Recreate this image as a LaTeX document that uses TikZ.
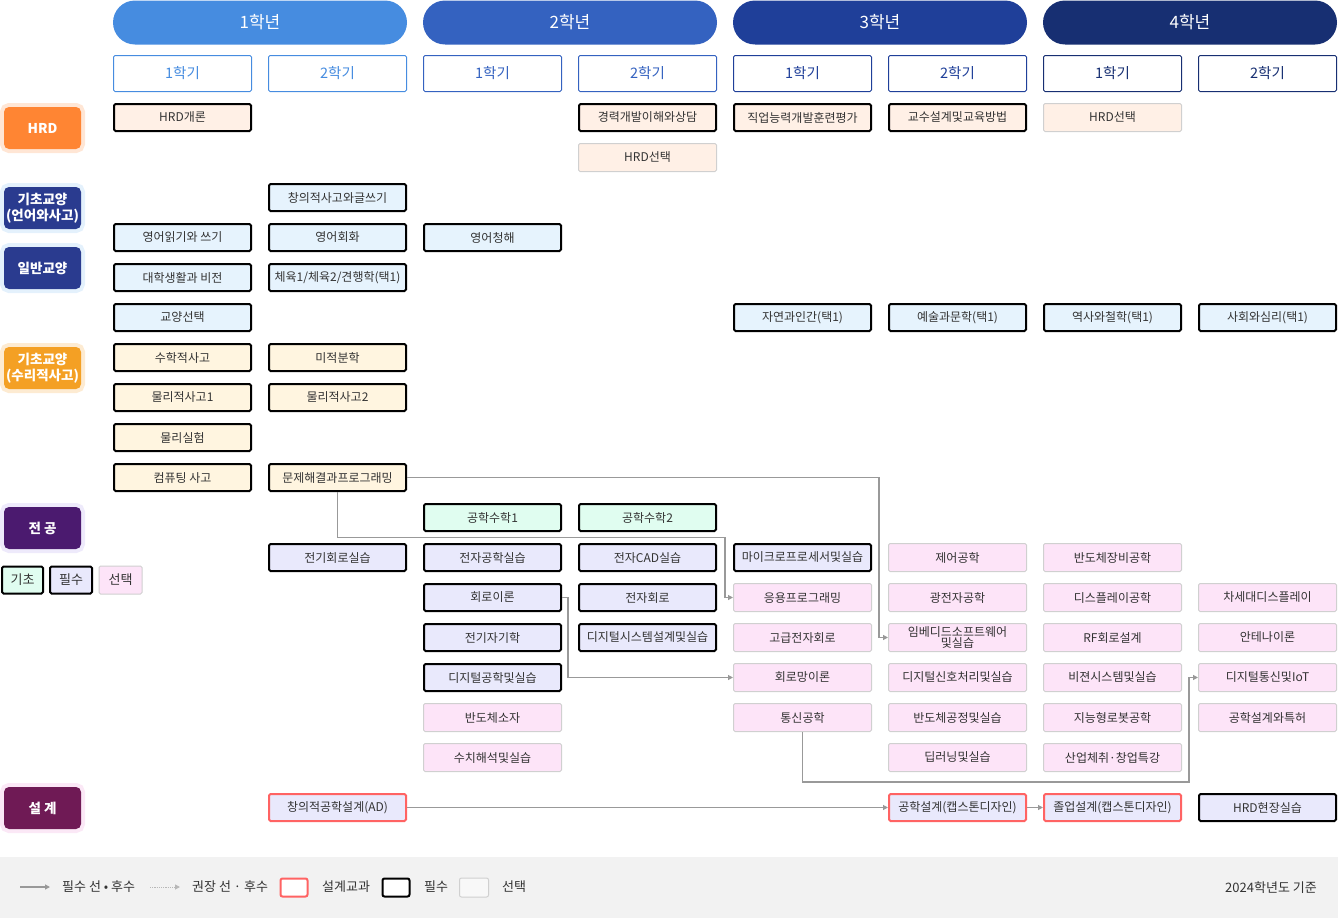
\documentclass[tikz,border=0pt]{standalone}
\usepackage{fontspec}
\setmainfont{Noto Sans CJK KR}
\usetikzlibrary{
    arrows.meta,
    positioning,
    calc
}
% colours
\definecolor{yearA}{HTML}{468CE0}
\definecolor{yearB}{HTML}{3462C0}
\definecolor{yearC}{HTML}{1F3F99}
\definecolor{yearD}{HTML}{172F72}
\definecolor{hrdcat}{HTML}{FF8533}
\definecolor{hrdhalo}{HTML}{FFE6D5}
\definecolor{langcat}{HTML}{2A3B8F}
\definecolor{langhalo}{HTML}{E4F1FC}
\definecolor{mathcat}{HTML}{F4A024}
\definecolor{mathhalo}{HTML}{FDEBD2}
\definecolor{majcat}{HTML}{4B1A6F}
\definecolor{majhalo}{HTML}{EEEAFB}
\definecolor{descat}{HTML}{6F1A55}
\definecolor{deshalo}{HTML}{FBE8F6}
\definecolor{hrdbg}{HTML}{FFF0E6}
\definecolor{langbg}{HTML}{E6F3FD}
\definecolor{mathbg}{HTML}{FFF5E0}
\definecolor{basicbg}{HTML}{E0FDF0}
\definecolor{majreq}{HTML}{E9E9FC}
\definecolor{majopt}{HTML}{FDE4F8}
\definecolor{txtgrey}{HTML}{333333}
\definecolor{optline}{HTML}{D0D0D0}
\definecolor{designred}{HTML}{FF6363}
\definecolor{linkgrey}{HTML}{999999}
\definecolor{legendbg}{HTML}{F2F2F2}
% fonts
\newcommand{\yearfont}{\fontsize{17}{18}\selectfont}
\newcommand{\termfont}{\fontsize{14.5}{16}\selectfont}
\newcommand{\catfont}{\fontsize{13.5}{16}\selectfont\bfseries}
\newcommand{\coursefont}{\fontsize{12}{13.5}\selectfont}
\newcommand{\legendfont}{\fontsize{13}{14}\selectfont}
\tikzset{
    % --- Year header (pill) ---
    year head/.style = {
        rectangle, rounded corners=22pt,
        minimum width=294pt, minimum height=44pt, inner sep=0pt,
        text=white, font=\yearfont
    },
    % --- Semester box ---
    term/.style = {
        rectangle, draw=#1, text=#1, line width=1pt, fill=white,
        rounded corners=1.5pt,
        minimum width=138pt, minimum height=36pt, inner sep=0pt,
        font=\termfont
    },
    % --- Category label on the left, with light halo ---
    category/.style = {
        rectangle, rounded corners=5pt,
        minimum width=77pt, minimum height=42pt, inner sep=0pt,
        text=white, align=center, font=\catfont,
        preaction={draw=#1, line width=8pt}
    },
    % --- Course box ---
    course/.style = {
        rectangle, rounded corners=1.5pt,
        minimum width=137pt, minimum height=27pt, inner sep=0pt,
        text=txtgrey, font=\coursefont, align=center
    },
    % --- Required course (thick black border) ---
    required/.style = {
        course, draw=black, line width=2pt
    },
    % --- Elective course (thin grey border) ---
    elective/.style = {
        course, draw=optline, line width=1pt,
        minimum width=138pt, minimum height=28pt
    },
    % --- Design course (red border) ---
    design/.style = {
        course, draw=designred, line width=2pt, fill=majreq
    },
    % --- Prerequisite connector ---
    link/.style = {
        draw=linkgrey, line width=1.2pt,
        -{Triangle[length=5pt,width=5pt]}
    },
    % --- Legend text ---
    legend text/.style = {
        anchor=west, inner sep=0pt, text=txtgrey, font=\legendfont
    }
}

\begin{document}
\begin{tikzpicture}[x=1pt, y=-1pt]

\useasboundingbox (0,0) rectangle (1338,918);

% ---------------------------------------------------------
% Year headers
% ---------------------------------------------------------
\node[year head, fill=yearA] (Year1) at (260, 22.5) {1학년};
\node[year head, fill=yearB] (Year2) at (570, 22.5) {2학년};
\node[year head, fill=yearC] (Year3) at (880, 22.5) {3학년};
\node[year head, fill=yearD] (Year4) at (1190, 22.5) {4학년};

% ---------------------------------------------------------
% Semesters
% ---------------------------------------------------------
\node[term=yearA] (Y1S1) at (182.5, 73.5) {1학기};
\node[term=yearA] (Y1S2) at (337.5, 73.5) {2학기};
\node[term=yearB] (Y2S1) at (492.5, 73.5) {1학기};
\node[term=yearB] (Y2S2) at (647.5, 73.5) {2학기};
\node[term=yearC] (Y3S1) at (802.5, 73.5) {1학기};
\node[term=yearC] (Y3S2) at (957.5, 73.5) {2학기};
\node[term=yearD] (Y4S1) at (1112.5, 73.5) {1학기};
\node[term=yearD] (Y4S2) at (1267.5, 73.5) {2학기};

% ---------------------------------------------------------
% Categories (left)
% ---------------------------------------------------------
\node[category=hrdhalo, fill=hrdcat]   (CatHRD)  at (42.5, 128) {HRD};
\node[category=langhalo, fill=langcat] (CatLang) at (42.5, 208) {기초교양\\(언어와사고)};
\node[category=langhalo, fill=langcat] (CatGen)  at (42.5, 268) {일반교양};
\node[category=mathhalo, fill=mathcat] (CatMath) at (42.5, 368) {기초교양\\(수리적사고)};
\node[category=majhalo, fill=majcat]   (CatMaj)  at (42.5, 528) {전 공};
\node[category=deshalo, fill=descat]   (CatDes)  at (42.5, 808) {설 계};

% major legend
\node[required, fill=basicbg, minimum width=41pt, font=\legendfont] (KeyBasic) at (22.5, 580) {기초};
\node[required, fill=majreq, minimum width=42pt, font=\legendfont]  (KeyReq)   at (71, 580) {필수};
\node[elective, fill=majopt, minimum width=43pt, font=\legendfont]  (KeyOpt)   at (120.5, 580) {선택};

% ---------------------------------------------------------
% HRD
% ---------------------------------------------------------
\node[required, fill=hrdbg] (HRDIntro)   at (182.5, 117.5) {HRD개론};
\node[required, fill=hrdbg] (CareerDev)  at (647.5, 117.5) {경력개발이해와상담};
\node[required, fill=hrdbg] (VocEval)    at (802.5, 117.5) {직업능력개발훈련평가};
\node[required, fill=hrdbg] (InstDesign) at (957.5, 117.5) {교수설계및교육방법};
\node[elective, fill=hrdbg] (HRDOptA)    at (1112.5, 117.5) {HRD선택};
\node[elective, fill=hrdbg] (HRDOptB)    at (647.5, 157.5) {HRD선택};

% ---------------------------------------------------------
% Liberal arts
% ---------------------------------------------------------
\node[required, fill=langbg] (Writing)   at (337.5, 197.5) {창의적사고와글쓰기};
\node[required, fill=langbg] (EngRW)     at (182.5, 237.5) {영어읽기와 쓰기};
\node[required, fill=langbg] (EngConv)   at (337.5, 237.5) {영어회화};
\node[required, fill=langbg] (EngListen) at (492.5, 237.5) {영어청해};
\node[required, fill=langbg] (CampusLife) at (182.5, 277.5) {대학생활과 비전};
\node[required, fill=langbg] (PhysEd)    at (337.5, 277.5) {체육1/체육2/견행학(택1)};
\node[required, fill=langbg] (LibOpt)    at (182.5, 317.5) {교양선택};
\node[required, fill=langbg] (Nature)    at (802.5, 317.5) {자연과인간(택1)};
\node[required, fill=langbg] (Arts)      at (957.5, 317.5) {예술과문학(택1)};
\node[required, fill=langbg] (History)   at (1112.5, 317.5) {역사와철학(택1)};
\node[required, fill=langbg] (Society)   at (1267.5, 317.5) {사회와심리(택1)};

% ---------------------------------------------------------
% Math / science basics
% ---------------------------------------------------------
\node[required, fill=mathbg] (MathThink) at (182.5, 357.5) {수학적사고};
\node[required, fill=mathbg] (Calculus)  at (337.5, 357.5) {미적분학};
\node[required, fill=mathbg] (PhysA)     at (182.5, 397.5) {물리적사고1};
\node[required, fill=mathbg] (PhysB)     at (337.5, 397.5) {물리적사고2};
\node[required, fill=mathbg] (PhysLab)   at (182.5, 437.5) {물리실험};
\node[required, fill=mathbg] (CompThink) at (182.5, 477.5) {컴퓨팅 사고};
\node[required, fill=mathbg] (ProbSolv)  at (337.5, 477.5) {문제해결과프로그래밍};

% ---------------------------------------------------------
% Major
% ---------------------------------------------------------
\node[required, fill=basicbg] (EngMathA) at (492.5, 517.5) {공학수학1};
\node[required, fill=basicbg] (EngMathB) at (647.5, 517.5) {공학수학2};

\node[required, fill=majreq] (CircLab)   at (337.5, 557.5) {전기회로실습};
\node[required, fill=majreq] (ElecLab)   at (492.5, 557.5) {전자공학실습};
\node[required, fill=majreq] (CADLab)    at (647.5, 557.5) {전자CAD실습};
\node[required, fill=majreq] (MicroProc) at (802.5, 557.5) {마이크로프로세서및실습};
\node[elective, fill=majopt] (Control)   at (957.5, 557.5) {제어공학};
\node[elective, fill=majopt] (SemiEquip) at (1112.5, 557.5) {반도체장비공학};

\node[required, fill=majreq] (CircuitTh) at (492.5, 597.5) {회로이론};
\node[required, fill=majreq] (ElecCirc)  at (647.5, 597.5) {전자회로};
\node[elective, fill=majopt] (AppProg)   at (802.5, 597.5) {응용프로그래밍};
\node[elective, fill=majopt] (OptoElec)  at (957.5, 597.5) {광전자공학};
\node[elective, fill=majopt] (Display)   at (1112.5, 597.5) {디스플레이공학};
\node[elective, fill=majopt] (NextDisp)  at (1267.5, 597.5) {차세대디스플레이};

\node[required, fill=majreq] (EMag)      at (492.5, 637.5) {전기자기학};
\node[required, fill=majreq] (DigSys)    at (647.5, 637.5) {디지털시스템설계및실습};
\node[elective, fill=majopt] (AdvCirc)   at (802.5, 637.5) {고급전자회로};
\node[elective, fill=majopt] (Embedded)  at (957.5, 637.5) {임베디드소프트웨어\\[-2.5pt]및실습};
\node[elective, fill=majopt] (RFDesign)  at (1112.5, 637.5) {RF회로설계};
\node[elective, fill=majopt] (Antenna)   at (1267.5, 637.5) {안테나이론};

\node[required, fill=majreq] (DigLogic)  at (492.5, 677.5) {디지털공학및실습};
\node[elective, fill=majopt] (NetworkTh) at (802.5, 677.5) {회로망이론};
\node[elective, fill=majopt] (DSP)       at (957.5, 677.5) {디지털신호처리및실습};
\node[elective, fill=majopt] (Vision)    at (1112.5, 677.5) {비젼시스템및실습};
\node[elective, fill=majopt] (DigComm)   at (1267.5, 677.5) {디지털통신및IoT};

\node[elective, fill=majopt] (SemiDev)   at (492.5, 717.5) {반도체소자};
\node[elective, fill=majopt] (Comm)      at (802.5, 717.5) {통신공학};
\node[elective, fill=majopt] (SemiProc)  at (957.5, 717.5) {반도체공정및실습};
\node[elective, fill=majopt] (Robot)     at (1112.5, 717.5) {지능형로봇공학};
\node[elective, fill=majopt] (Patent)    at (1267.5, 717.5) {공학설계와특허};

\node[elective, fill=majopt] (Numerics)  at (492.5, 757.5) {수치해석및실습};
\node[elective, fill=majopt] (DeepLearn) at (957.5, 757.5) {딥러닝및실습};
\node[elective, fill=majopt] (Startup)   at (1112.5, 757.5) {산업체취·창업특강};

% ---------------------------------------------------------
% Design
% ---------------------------------------------------------
\node[design] (CreativeDes) at (337.5, 807.5) {창의적공학설계(AD)};
\node[design] (Capstone)    at (957.5, 807.5) {공학설계(캡스톤디자인)};
\node[design] (GradDes)     at (1112.5, 807.5) {졸업설계(캡스톤디자인)};
\node[required, fill=majreq] (FieldPrac) at (1267.5, 807.5) {HRD현장실습};

% ---------------------------------------------------------
% Prerequisite connectors
% ---------------------------------------------------------
\draw[link] (ProbSolv.east) -| ($(Embedded.west) + (-9, 0)$) -- (Embedded.west);
\draw[link] (ProbSolv.south) -- ++(0, 45.5) -| ($(AppProg.west) + (-8, 0)$) -- (AppProg.west);
\draw[link] (CircuitTh.east) -- ++(6, 0) |- (NetworkTh.west);
\draw[link] (Comm.south) -- ++(0, 50) -| ($(DigComm.west) + (-9, 0)$) -- (DigComm.west);
\draw[link] (CreativeDes) -- (Capstone);
\draw[link] (Capstone) -- (GradDes);

% ---------------------------------------------------------
% Legend band
% ---------------------------------------------------------
\node[fill=legendbg, minimum width=1338pt, minimum height=61pt, inner sep=0pt] (LegendBand) at (669, 887.5) {};

\coordinate (SolidA) at (20, 887);
\coordinate (SolidB) at (50, 887);
\draw[link] (SolidA) -- (SolidB);
\node[legend text] (SolidTxt) at (62, 887) {필수 선 • 후수};

\coordinate (DotA) at (150, 887);
\coordinate (DotB) at (180, 887);
\draw[link, draw=linkgrey!70, densely dotted, line width=1pt] (DotA) -- (DotB);
\node[legend text] (DotTxt) at (192, 887) {권장 선 · 후수};

\node[draw=designred, line width=2pt, rounded corners=2pt, fill=white,
    minimum width=27pt, minimum height=18pt] (KeyDesign) at (294, 887.5) {};
\node[legend text] (DesignTxt) at (322, 887) {설계교과};
\node[draw=black, line width=2pt, rounded corners=2pt, fill=white,
    minimum width=27pt, minimum height=18pt] (KeyRequired) at (396, 887.5) {};
\node[legend text] (RequiredTxt) at (424, 887) {필수};
\node[draw=optline, line width=1pt, rounded corners=2pt, fill=legendbg!50,
    minimum width=29pt, minimum height=19pt] (KeyElective) at (474, 887.5) {};
\node[legend text] (ElectiveTxt) at (502, 887) {선택};

\node[legend text, anchor=east, font=\fontsize{13}{15}\selectfont] (YearNote) at (1317, 888) {2024학년도 기준};

\end{tikzpicture}
\end{document}
